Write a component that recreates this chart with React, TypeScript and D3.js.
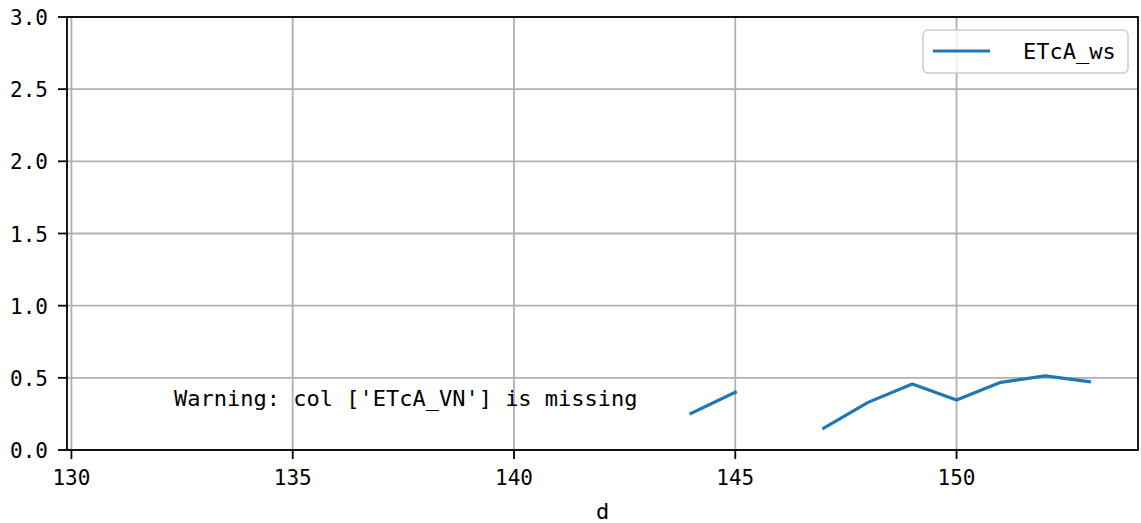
import React from "react";
import * as d3 from "d3";

const days: number[] = [131, 132, 133, 134, 135, 136, 137, 138, 139, 140, 141, 142, 143, 144, 145, 146, 147, 148, 149, 150, 151, 152, 153];
const etcaWs: (number | null)[] = [null, null, null, null, null, null, null, null, null, null, null, null, null, 0.254, 0.40, null, 0.152, 0.33, 0.457, 0.346, 0.469, 0.513, 0.473];
const xTicks: number[] = [130, 135, 140, 145, 150];
const yTicks: number[] = [0, 0.5, 1.0, 1.5, 2.0, 2.5, 3.0];
const seriesName = "ETcA_ws";
const warningText = "Warning: col ['ETcA_VN'] is missing";
const xLabel = "d";

const W = 1141;
const H = 523;
const M = { left: 67, right: 1138, top: 17, bottom: 450 };
const FONT = "'DejaVu Sans Mono', 'Liberation Mono', monospace";

export default function App() {
  const xPad = (days[days.length - 1] - days[0]) * 0.05;
  const x = d3.scaleLinear().domain([days[0] - xPad, days[days.length - 1] + xPad]).range([M.left, M.right]);
  const y = d3.scaleLinear().domain([0, 3]).range([M.bottom, M.top]);
  const pts = days.map((d, i) => ({ d, v: etcaWs[i] }));
  const line = d3
    .line<{ d: number; v: number | null }>()
    .defined((p) => p.v !== null)
    .x((p) => x(p.d))
    .y((p) => y(p.v as number));

  return (
    <svg width={W} height={H} style={{ position: "absolute", left: 0, top: 0, background: "#fff" }}>
      <rect x={0} y={0} width={W} height={H} fill="#fff" />
      {/* grid */}
      {xTicks.map((t) => (
        <line key={"gx" + t} x1={x(t)} x2={x(t)} y1={M.top} y2={M.bottom} stroke="#b0b0b0" strokeWidth={1.8} />
      ))}
      {yTicks.map((t) => (
        <line key={"gy" + t} x1={M.left} x2={M.right} y1={y(t)} y2={y(t)} stroke="#b0b0b0" strokeWidth={1.8} />
      ))}
      {/* series */}
      <path d={line(pts) || ""} fill="none" stroke="#1f77b4" strokeWidth={3.2} strokeLinecap="square" strokeLinejoin="round" />
      {/* warning text */}
      <text x={174} y={406} fontFamily={FONT} fontSize={22} fill="#000">
        {warningText}
      </text>
      {/* spines */}
      <rect x={M.left} y={M.top} width={M.right - M.left} height={M.bottom - M.top} fill="none" stroke="#000" strokeWidth={1.8} />
      {/* x ticks */}
      {xTicks.map((t) => (
        <g key={"tx" + t}>
          <line x1={x(t)} x2={x(t)} y1={M.bottom} y2={M.bottom + 9} stroke="#000" strokeWidth={1.8} />
          <text x={x(t)} y={485} textAnchor="middle" fontFamily={FONT} fontSize={21} fill="#000">
            {t}
          </text>
        </g>
      ))}
      {/* y ticks */}
      {yTicks.map((t) => (
        <g key={"ty" + t}>
          <line x1={M.left - 9} x2={M.left} y1={y(t)} y2={y(t)} stroke="#000" strokeWidth={1.8} />
          <text x={48} y={y(t) + 8} textAnchor="end" fontFamily={FONT} fontSize={21} fill="#000">
            {t.toFixed(1)}
          </text>
        </g>
      ))}
      {/* x label */}
      <text x={(M.left + M.right) / 2} y={519} textAnchor="middle" fontFamily={FONT} fontSize={22} fill="#000">
        {xLabel}
      </text>
      {/* legend */}
      <rect x={923} y={30} width={205} height={43} rx={5} ry={5} fill="#fff" fillOpacity={0.8} stroke="#cccccc" strokeWidth={1.5} />
      <line x1={933} x2={990} y1={51} y2={51} stroke="#1f77b4" strokeWidth={3.2} />
      <text x={1023} y={59} fontFamily={FONT} fontSize={22} fill="#000">
        {seriesName}
      </text>
    </svg>
  );
}
